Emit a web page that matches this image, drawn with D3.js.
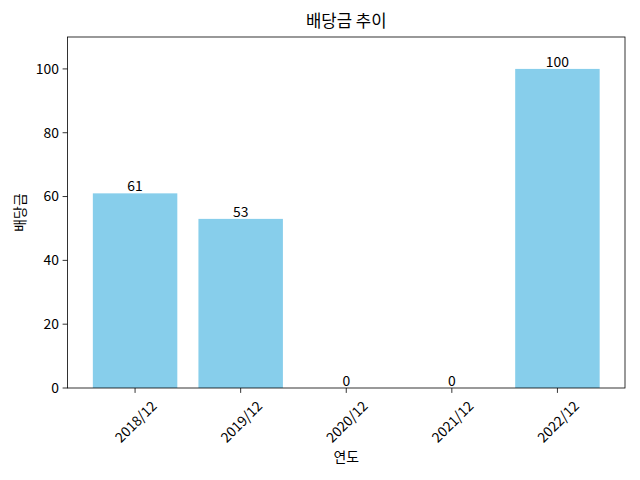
<!DOCTYPE html>
<html>
<head>
<meta charset="utf-8">
<script src="https://cdn.jsdelivr.net/npm/d3@7"></script>
<style>
  body { margin: 0; background: #fff; }
  text { font-family: "Noto Sans CJK KR", "Noto Sans", sans-serif; fill: #000; }
</style>
</head>
<body>
<script>
var w = 640;
var h = 480;

var years = ["2018/12", "2019/12", "2020/12", "2021/12", "2022/12"];
var dividends = [61, 53, 0, 0, 100];
var yTicks = [0, 20, 40, 60, 80, 100];

var plotL = 67.5, plotR = 625, plotT = 37, plotB = 388;

var svg = d3.select("body").append("svg")
    .attr("width", w)
    .attr("height", h);

// bars are 0.8 wide, matplotlib-like margins on both sides
var x = d3.scaleLinear().domain([-0.64, years.length - 1 + 0.64]).range([plotL, plotR]);
var y = d3.scaleLinear().domain([0, 110]).range([plotB, plotT]);
var barW = x(0.4) - x(-0.4);

//---bars-----
svg.selectAll("rect.bar")
    .data(dividends)
    .enter().append("rect")
    .attr("class", "bar")
    .attr("x", function (d, i) { return x(i) - barW / 2; })
    .attr("y", function (d) { return y(d); })
    .attr("width", barW)
    .attr("height", function (d) { return y(0) - y(d); })
    .attr("fill", "#87ceeb");

//---value labels-----
svg.selectAll("text.val")
    .data(dividends)
    .enter().append("text")
    .attr("class", "val")
    .text(function (d) { return d; })
    .attr("x", function (d, i) { return x(i); })
    .attr("y", function (d) { return y(d) - 2; })
    .attr("text-anchor", "middle")
    .attr("font-size", 13.9)
    .attr("fill", "#222");

//---y axis-----
svg.selectAll("line.ytick")
    .data(yTicks)
    .enter().append("line")
    .attr("x1", plotL - 4.9).attr("x2", plotL)
    .attr("y1", function (d) { return y(d); })
    .attr("y2", function (d) { return y(d); })
    .attr("stroke", "#000").attr("stroke-width", 0.8);

svg.selectAll("text.ylab")
    .data(yTicks)
    .enter().append("text")
    .text(function (d) { return d; })
    .attr("x", plotL - 8.5)
    .attr("y", function (d) { return y(d); })
    .attr("dy", "0.35em")
    .attr("text-anchor", "end")
    .attr("font-size", 13.9);

//---x axis-----
svg.selectAll("line.xtick")
    .data(years)
    .enter().append("line")
    .attr("x1", function (d, i) { return x(i); })
    .attr("x2", function (d, i) { return x(i); })
    .attr("y1", plotB).attr("y2", plotB + 4.9)
    .attr("stroke", "#000").attr("stroke-width", 0.8);

svg.selectAll("text.xlab")
    .data(years)
    .enter().append("text")
    .text(function (d) { return d; })
    .attr("text-anchor", "middle")
    .attr("dominant-baseline", "central")
    .attr("font-size", 13.9)
    .attr("transform", function (d, i) {
        return "translate(" + x(i) + "," + (plotB + 33) + ") rotate(-45)";
    });

//---frame-----
svg.append("rect")
    .attr("x", plotL).attr("y", plotT)
    .attr("width", plotR - plotL).attr("height", plotB - plotT)
    .attr("fill", "none").attr("stroke", "#000").attr("stroke-width", 0.8);

//---titles-----
svg.append("text")
    .text("배당금 추이")
    .attr("x", (plotL + plotR) / 2)
    .attr("y", 27)
    .attr("text-anchor", "middle")
    .attr("font-size", 16.7);

svg.append("text")
    .text("연도")
    .attr("x", (plotL + plotR) / 2)
    .attr("y", 462)
    .attr("text-anchor", "middle")
    .attr("font-size", 13.9);

svg.append("text")
    .text("배당금")
    .attr("transform", "translate(25," + ((plotT + plotB) / 2) + ") rotate(-90)")
    .attr("text-anchor", "middle")
    .attr("font-size", 13.9);
</script>
</body>
</html>
